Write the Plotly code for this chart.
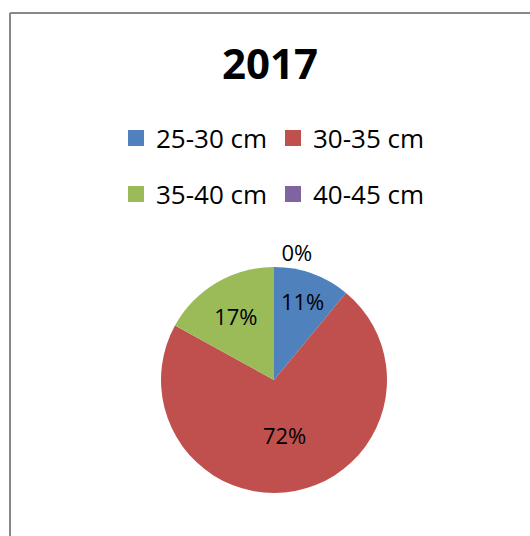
import plotly.graph_objects as go

# 2017 size-class shares (percent)
labels = ["25-30 cm", "30-35 cm", "35-40 cm", "40-45 cm"]
values = [11, 72, 17, 0]
colors = ["#4F81BD", "#C0504D", "#9BBB59", "#8064A2"]
title_text = "2017"

W, H = 530, 536
cx, cy, r = 274, 380, 113  # pie centre / radius in pixels

fig = go.Figure()

fig.add_trace(go.Pie(
    labels=labels,
    values=values,
    marker=dict(colors=colors, line=dict(color="white", width=0)),
    sort=False,
    direction="clockwise",
    rotation=0,
    texttemplate="%{percent:.0%}",
    textposition=["inside", "inside", "inside", "outside"],
    insidetextorientation="horizontal",
    textfont=dict(family="Open Sans", size=22, color="black"),
    domain=dict(x=[(cx - r) / W, (cx + r) / W],
                y=[(H - cy - r) / H, (H - cy + r) / H]),
    showlegend=False,
    hoverinfo="label+percent",
))

# legend entries: two per row, split into two legends to get the row spacing
for i, (lab, col) in enumerate(zip(labels, colors)):
    fig.add_trace(go.Scatter(
        x=[None], y=[None], mode="markers", name=lab,
        marker=dict(symbol="square", size=17, color=col),
        legend="legend" if i < 2 else "legend2",
        hoverinfo="skip",
    ))

legend_style = dict(orientation="h", xanchor="left", yanchor="middle",
                    entrywidth=112, itemsizing="trace", itemwidth=30,
                    font=dict(size=26), bgcolor="rgba(0,0,0,0)")

fig.update_layout(
    width=W,
    height=H,
    margin=dict(l=0, r=0, t=0, b=0),
    paper_bgcolor="white",
    plot_bgcolor="white",
    font=dict(family="Open Sans", color="black"),
    xaxis=dict(visible=False),
    yaxis=dict(visible=False),
    title=dict(text=f"<b>{title_text}</b>", x=270 / W, xanchor="center",
               y=1 - 64 / H, yanchor="middle", yref="container",
               font=dict(size=42, color="black")),
    legend=dict(legend_style, x=116 / W, y=1 - 138 / H),
    legend2=dict(legend_style, x=116 / W, y=1 - 194 / H),
    shapes=[
        dict(type="line", xref="paper", yref="paper", x0=10 / W, x1=10 / W,
             y0=0, y1=1 - 13 / H, line=dict(color="#888888", width=2)),
        dict(type="line", xref="paper", yref="paper", x0=10 / W, x1=1,
             y0=1 - 13 / H, y1=1 - 13 / H, line=dict(color="#888888", width=2)),
    ],
)

fig.write_html("out.html", config={"displayModeBar": False},
               post_script="document.body.style.margin='0';")
